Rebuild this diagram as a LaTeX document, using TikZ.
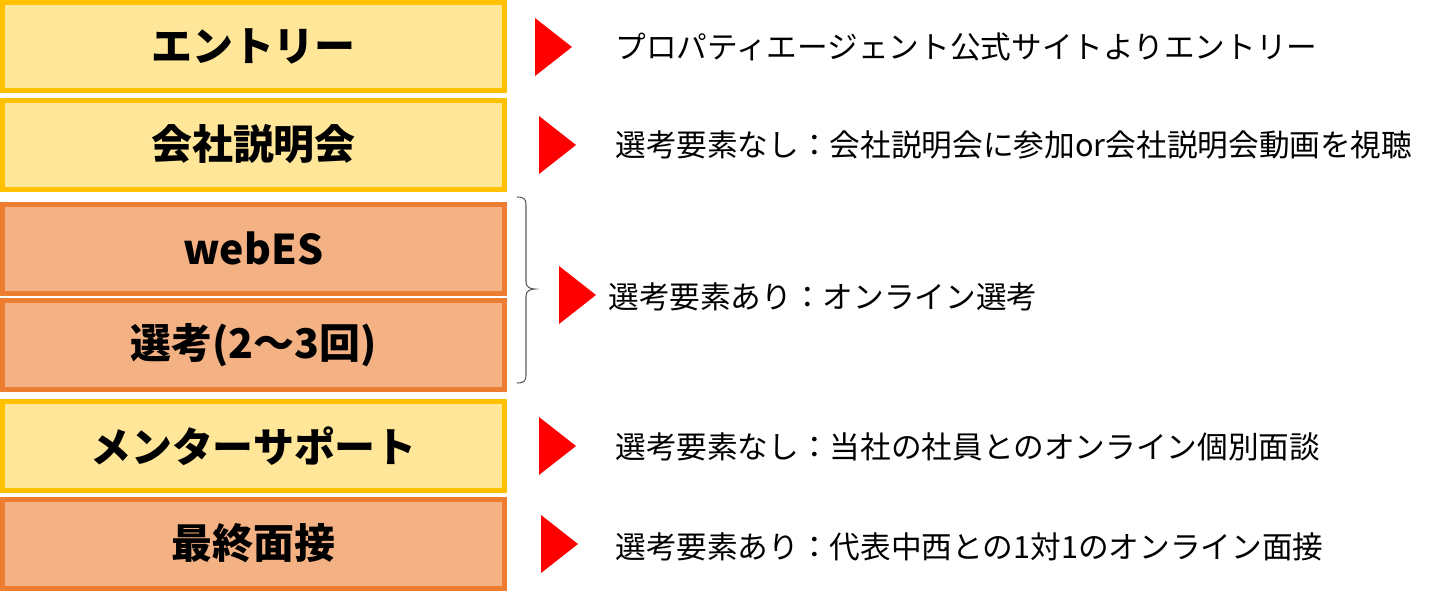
\documentclass[tikz,border=0pt]{standalone}
\usepackage{fontspec}
\usepackage{xcolor}
\usepackage{tikz}
\usetikzlibrary{positioning}
\newfontfamily\jp{Noto Sans CJK JP}
\definecolor{stepyellow}{HTML}{FFE699}
\definecolor{edgeyellow}{HTML}{FFC000}
\definecolor{steporange}{HTML}{F4B183}
\definecolor{edgeorange}{HTML}{ED7D31}
\definecolor{arrowred}{HTML}{FF0000}

\begin{document}
\begin{tikzpicture}[x=0.02cm, y=-0.02cm,
    stepbox/.style={draw, line width=0.1cm, minimum width=10.04cm, minimum height=1.78cm,
        inner sep=0pt, outer sep=0pt, font=\jp\bfseries\fontsize{23.3}{27}\selectfont},
    ybox/.style={stepbox, fill=stepyellow, draw=edgeyellow},
    obox/.style={stepbox, fill=steporange, draw=edgeorange},
    note/.style={anchor=west, inner sep=0pt, font=\jp\fontsize{17.45}{20}\selectfont}]
\useasboundingbox (0,0) rectangle (1440,593);

% Steps on the left
\node[ybox] (entry) at (253.5, 46.5) {エントリー};
\node[ybox] (setsumei) at (253.5, 144.5) {会社説明会};
\node[obox] (webes) at (253.5, 248.5) {webES};
\node[obox] (senko) at (253.5, 345) {選考(2～3回)};
\node[ybox] (mentor) at (253.5, 446) {メンターサポート};
\node[obox] (mensetsu) at (253.5, 543.5) {最終面接};

% Brace for webES + selection
\draw[gray!70!black, line width=0.6pt] (517,197) .. controls (524,197) and (526,199) .. (526,205)
    -- (526,282) .. controls (526,287) and (530,289) .. (535,289)
    .. controls (530,289) and (526,291) .. (526,296)
    -- (526,375) .. controls (526,381) and (524,383) .. (517,383);

% Red triangles
\foreach \tx/\ty in {535/47, 539/145, 559/295, 539/446, 541/544} {
    \fill[arrowred] (\tx,\ty-29) -- (\tx+37,\ty) -- (\tx,\ty+29) -- cycle;
}

% Notes on the right
\node[note] (n1) at (615, 47) {プロパティエージェント公式サイトよりエントリー};
\node[note] (n2) at (615, 145) {選考要素なし：会社説明会に参加or会社説明会動画を視聴};
\node[note] (n3) at (608, 297) {選考要素あり：オンライン選考};
\node[note] (n4) at (615, 447) {選考要素なし：当社の社員とのオンライン個別面談};
\node[note] (n5) at (615, 547) {選考要素あり：代表中西との1対1のオンライン面接};

\end{tikzpicture}
\end{document}
